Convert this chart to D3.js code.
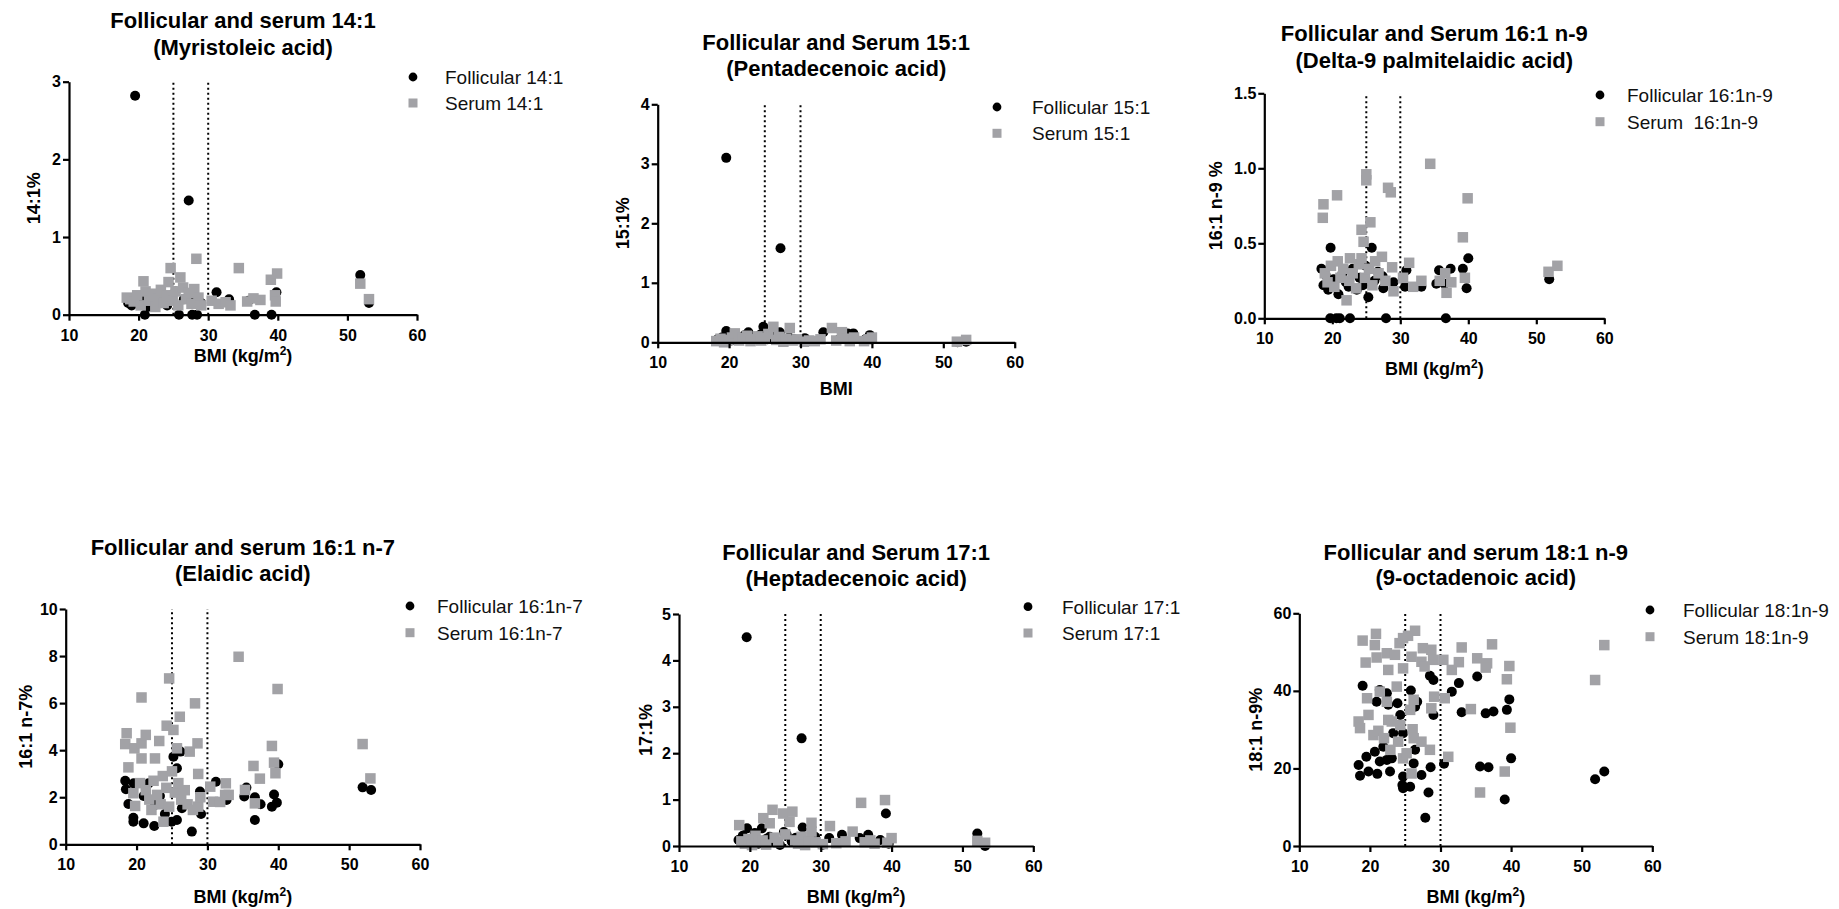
<!DOCTYPE html>
<html>
<head>
<meta charset="utf-8">
<script src="https://cdn.jsdelivr.net/npm/d3@7"></script>
<style>
  body { margin: 0; background: #fff; }
  svg { display: block; }
  text { font-family: Arial, "Liberation Sans", sans-serif; }
</style>
</head>
<body>
<svg id="chart" width="1839" height="909"></svg>
<script>
// ---- shared axis values ----
const bmiTicks = [10, 20, 30, 40, 50, 60];
const bmiCutoffs = [25, 30];           // overweight / obese thresholds

// ---- 14:1 (Myristoleic acid): [BMI, %] ----
const fol141 = [[18.5,0.15],[19.0,0.12],[19.5,2.82],[20.2,0.2],[20.9,0],[21.3,0.1],[22.0,0.22],[22.6,0.15],[23.4,0.18],[24.1,0.12],[24.8,0.25],[25.3,0.3],[25.8,0],[26.5,0.2],[27.2,1.47],[27.4,0.19],[27.7,0],[28.4,0],[29.0,0.15],[31.2,0.29],[33.0,0.2],[35.8,0.18],[36.7,0],[39.1,0],[39.8,0.29],[51.85,0.51],[53.1,0.15]];
const ser141 = [[18.3,0.22],[18.8,0.2],[19.3,0.17],[19.8,0.25],[20.3,0.12],[20.7,0.43],[21.0,0.3],[21.5,0.18],[21.9,0.27],[22.4,0.1],[22.8,0.2],[23.2,0.32],[23.6,0.15],[24.0,0.25],[24.3,0.42],[24.6,0.6],[24.9,0.18],[25.3,0.3],[25.7,0.12],[26.0,0.48],[26.4,0.35],[26.8,0.2],[27.2,0.28],[27.6,0.14],[28.0,0.33],[28.3,0.72],[28.6,0.22],[29.0,0.12],[30.5,0.18],[31.5,0.14],[32.5,0.16],[33.2,0.12],[34.4,0.6],[35.6,0.17],[36.5,0.21],[37.5,0.19],[39.0,0.45],[39.6,0.25],[39.7,0.17],[39.9,0.53],[51.85,0.4],[53.1,0.2]];

// ---- 15:1 (Pentadecenoic acid) ----
const fol151 = [[18.4,0.05],[19.0,0.08],[19.6,0.19],[19.6,3.10],[20.3,0.03],[21.0,0.1],[21.6,0.06],[22.2,0.12],[22.7,0.17],[23.3,0.04],[23.9,0.09],[24.4,0.13],[24.8,0.26],[25.4,0.05],[25.9,0.1],[26.5,0.07],[27.1,0.17],[27.2,1.58],[27.8,0.04],[28.4,0.08],[29.1,0.05],[30.6,0.07],[31.5,0.02],[33.2,0.17],[35.3,0.04],[36.6,0.15],[37.4,0.15],[39.2,0.06],[39.7,0.12],[52.0,0.0],[53.2,0.01]];
const ser151 = [[18.2,0.02],[18.8,0.06],[19.3,0.0],[19.9,0.04],[20.4,0.08],[20.8,0.15],[21.4,0.03],[21.9,0.07],[22.5,0.11],[23.0,0.02],[23.5,0.05],[24.0,0.1],[24.5,0.03],[25.0,0.07],[25.5,0.14],[26.2,0.26],[26.6,0.04],[27.0,0.09],[27.6,0.01],[28.0,0.06],[28.5,0.24],[28.9,0.03],[29.5,0.05],[30.5,0.01],[31.2,0.03],[32.0,0.02],[32.8,0.05],[34.4,0.24],[35.0,0.03],[35.8,0.17],[36.3,0.06],[36.9,0.02],[37.5,0.08],[38.9,0.02],[39.5,0.05],[40.0,0.08],[51.9,0.01],[53.2,0.04]];

// ---- 16:1 n-9 (Delta-9 palmitelaidic acid) ----
const fol161n9 = [[18.4,0.33],[18.7,0.22],[19.0,0.29],[19.4,0.19],[19.7,0.0],[19.75,0.47],[20.2,0.26],[20.6,0.0],[20.9,0.16],[21.1,0.0],[21.5,0.3],[22.0,0.24],[22.4,0.21],[22.6,0.0],[23.0,0.33],[23.6,0.19],[24.0,0.27],[24.5,0.22],[24.9,0.35],[25.3,0.14],[25.8,0.47],[26.2,0.25],[26.7,0.31],[27.4,0.28],[27.5,0.2],[27.9,0.0],[29.0,0.24],[30.7,0.21],[30.9,0.32],[33.1,0.21],[35.3,0.23],[35.7,0.32],[36.5,0.23],[36.7,0.0],[37.4,0.33],[39.2,0.33],[39.75,0.2],[40.0,0.40],[51.9,0.26]];
const ser161n9 = [[18.6,0.67],[18.7,0.76],[18.9,0.3],[19.3,0.24],[19.8,0.35],[20.3,0.21],[20.7,0.82],[20.8,0.38],[21.2,0.27],[21.6,0.33],[22.1,0.12],[22.5,0.25],[22.6,0.40],[23.0,0.3],[23.5,0.2],[23.9,0.36],[24.3,0.59],[24.3,0.40],[24.6,0.51],[24.8,0.27],[25.0,0.96],[25.0,0.92],[25.4,0.33],[25.6,0.64],[25.9,0.22],[26.3,0.38],[26.8,0.3],[27.3,0.41],[27.8,0.25],[28.2,0.87],[28.6,0.84],[28.8,0.34],[29.0,0.18],[30.4,0.27],[31.3,0.37],[31.9,0.21],[33.1,0.25],[34.4,1.03],[35.8,0.25],[36.6,0.30],[36.8,0.17],[37.5,0.24],[39.2,0.54],[39.5,0.27],[39.9,0.80],[51.8,0.31],[53.1,0.35]];

// ---- 16:1 n-7 (Elaidic acid) ----
const fol161n7 = [[18.4,2.7],[18.5,2.34],[18.85,1.71],[19.55,1.13],[19.55,0.96],[19.6,2.59],[21.0,0.89],[21.0,2.05],[21.7,2.59],[22.5,0.78],[22.6,1.67],[23.3,2.05],[24.0,1.29],[24.95,0.96],[25.2,3.72],[25.7,3.23],[25.7,1.03],[26.2,3.94],[26.4,1.53],[27.8,0.54],[28.95,2.24],[29.1,1.29],[31.2,2.66],[32.7,1.88],[35.2,2.03],[35.5,2.41],[36.7,2.0],[36.7,1.03],[37.5,1.7],[39.1,1.6],[39.4,2.12],[39.8,1.77],[40.0,3.4],[51.9,2.42],[53.1,2.31]];
const ser161n7 = [[18.4,4.26],[18.6,4.72],[18.85,3.27],[19.55,2.17],[19.7,4.08],[19.8,1.63],[20.5,2.6],[20.7,6.24],[20.7,4.29],[20.7,3.65],[21.3,4.65],[21.3,2.3],[21.8,1.9],[22.1,1.46],[22.4,2.7],[22.6,3.65],[22.9,2.1],[23.2,4.39],[23.4,1.7],[23.7,2.9],[23.8,0.96],[24.2,2.4],[24.25,5.04],[24.6,7.05],[24.6,1.6],[25.0,3.1],[25.2,4.86],[25.4,2.2],[25.7,4.08],[25.9,2.6],[26.1,5.42],[26.3,1.9],[26.8,2.3],[27.2,1.7],[27.5,3.94],[27.95,1.46],[28.25,5.99],[28.6,4.29],[28.7,2.99],[28.7,1.6],[29.0,2.0],[30.4,2.45],[30.8,1.81],[31.8,1.8],[32.5,2.1],[32.6,2.59],[33.0,2.1],[34.4,7.97],[35.3,2.31],[36.5,3.33],[36.7,1.74],[37.4,2.79],[39.1,4.18],[39.4,3.47],[39.6,3.02],[39.9,6.6],[51.9,4.26],[53.0,2.8]];

// ---- 17:1 (Heptadecenoic acid) ----
const fol171 = [[18.4,0.13],[19.0,0.22],[19.55,4.5],[19.6,0.38],[20.2,0.1],[20.7,0.28],[21.2,0.05],[21.7,0.38],[22.3,0.15],[22.8,0.2],[23.5,0.08],[24.25,0.02],[24.8,0.3],[25.2,0.24],[25.9,0.1],[26.5,0.18],[27.3,2.32],[27.45,0.40],[27.55,0.02],[28.3,0.12],[29.2,0.2],[30.2,0.02],[31.2,0.17],[33.0,0.24],[35.5,0.17],[36.7,0.24],[38.4,0.13],[39.2,0.70],[39.6,0.05],[52.1,0.27],[53.2,0.0]];
const ser171 = [[18.5,0.45],[18.8,0.1],[19.3,0.05],[19.8,0.15],[20.3,0.02],[20.8,0.22],[21.3,0.08],[21.8,0.12],[21.9,0.6],[22.3,0.03],[22.8,0.49],[23.2,0.78],[23.5,0.18],[24.0,0.08],[24.7,0.70],[25.0,0.25],[25.6,0.52],[26.0,0.74],[26.4,0.12],[26.8,0.05],[27.3,0.2],[27.8,0.02],[28.3,0.1],[28.7,0.5],[28.7,0.31],[29.3,0.08],[30.3,0.04],[31.3,0.43],[32.2,0.06],[33.5,0.1],[34.5,0.31],[35.7,0.93],[36.2,0.08],[37.0,0.12],[37.6,0.05],[39.07,0.99],[39.4,0.07],[40.0,0.17],[52.1,0.11],[53.2,0.07]];

// ---- 18:1 n-9 (9-octadenoic acid) ----
const fol181n9 = [[18.97,41.3],[18.4,20.9],[18.6,18.1],[19.5,23.0],[19.8,19.2],[20.7,24.3],[21.05,18.6],[21.4,21.8],[21.4,40.2],[20.95,37.2],[22.4,39.4],[22.6,36.4],[21.9,25.6],[22.85,19.2],[23.1,22.6],[22.4,22.2],[23.9,36.8],[23.3,29.1],[24.3,33.8],[24.7,29.1],[24.6,15.7],[24.7,14.9],[25.7,15.3],[24.7,17.9],[25.8,40.1],[26.4,35.9],[26.7,37.2],[26.2,21.3],[26.4,24.8],[27.3,18.3],[27.85,7.3],[28.3,13.8],[28.6,20.3],[28.5,43.9],[29.0,42.8],[29.0,33.8],[30.5,21.2],[31.6,39.8],[32.6,42.0],[33.0,34.5],[35.2,43.7],[35.6,20.5],[36.8,20.3],[36.4,34.2],[37.5,34.7],[39.1,12.0],[39.4,35.1],[39.75,37.8],[40.0,22.6],[51.9,17.2],[53.2,19.2]];
const ser181n9 = [[18.97,52.96],[19.4,47.3],[20.86,54.7],[20.7,51.8],[20.95,48.6],[22.4,49.7],[23.55,49.3],[22.6,45.4],[24.2,52.3],[24.7,53.6],[25.4,54.2],[26.4,55.5],[24.7,45.8],[25.9,48.8],[27.3,47.5],[27.75,46.3],[27.5,51.0],[28.7,50.6],[28.95,48.0],[30.4,48.0],[31.6,45.4],[33.0,51.2],[32.6,47.4],[35.2,48.4],[36.6,47.1],[36.4,46.0],[37.3,52.0],[39.75,46.4],[39.4,43.0],[51.9,42.8],[53.2,51.8],[18.4,32.1],[18.6,30.4],[19.8,33.8],[19.6,38.1],[20.5,28.6],[21.2,29.7],[21.4,39.8],[22.0,27.8],[22.4,37.2],[22.6,32.5],[23.8,41.1],[23.1,32.1],[24.3,31.2],[22.9,24.8],[24.0,26.9],[24.7,22.6],[25.2,23.9],[25.7,35.1],[26.2,37.7],[26.05,30.1],[26.2,27.8],[25.9,18.7],[27.3,26.9],[28.5,24.8],[28.7,35.5],[29.1,38.5],[30.6,38.1],[31.1,23.0],[34.3,35.3],[35.6,13.8],[39.1,19.2],[39.9,30.5]];

// ---- panel text ----
const titles = [
  ["Follicular and serum 14:1", "(Myristoleic acid)"],
  ["Follicular and Serum 15:1", "(Pentadecenoic acid)"],
  ["Follicular and Serum 16:1 n-9", "(Delta-9 palmitelaidic acid)"],
  ["Follicular and serum 16:1 n-7", "(Elaidic acid)"],
  ["Follicular and Serum 17:1", "(Heptadecenoic acid)"],
  ["Follicular and serum 18:1 n-9", "(9-octadenoic acid)"]
];
const yLabels = ["14:1%", "15:1%", "16:1 n-9 %", "16:1 n-7%", "17:1%", "18:1 n-9%"];
const legendLabels = [
  ["Follicular 14:1", "Serum 14:1"],
  ["Follicular 15:1", "Serum 15:1"],
  ["Follicular 16:1n-9", "Serum  16:1n-9"],
  ["Follicular 16:1n-7", "Serum 16:1n-7"],
  ["Follicular 17:1", "Serum 17:1"],
  ["Follicular 18:1n-9", "Serum 18:1n-9"]
];
const yTickSets = [[0,1,2,3],[0,1,2,3,4],[0,0.5,1,1.5],[0,2,4,6,8,10],[0,1,2,3,4,5],[0,20,40,60]];
const xAxisWithUnits = [true, false, true, true, true, true];
const follicularSets = [fol141, fol151, fol161n9, fol161n7, fol171, fol181n9];
const serumSets = [ser141, ser151, ser161n9, ser161n7, ser171, ser181n9];

// ---- layout of the six panels (pixels) ----
const layout = [
  { xl: 69,     xr: 417,    yb: 314.7, yt: 81.7,  tY: [20, 47],      yLabX: 33,   xLabY: 355.4, legX: 413,  legY: [77, 103],    legTx: 445 },
  { xl: 657.7,  xr: 1014.7, yb: 342.3, yt: 104.3, tY: [42, 68],      yLabX: 622,  xLabY: 388,   legX: 997,  legY: [107, 133.3], legTx: 1032 },
  { xl: 1264.3, xr: 1604.3, yb: 318.3, yt: 93.3,  tY: [33, 60],      yLabX: 1215, xLabY: 368,   legX: 1600, legY: [95, 121.7],  legTx: 1627 },
  { xl: 65.7,   xr: 420,    yb: 844.3, yt: 609,   tY: [546.7, 573.3], yLabX: 25,  xLabY: 896.7, legX: 410,  legY: [606, 632.7], legTx: 437 },
  { xl: 679,    xr: 1033.3, yb: 846,   yt: 614,   tY: [551.7, 578.3], yLabX: 645, xLabY: 896.7, legX: 1028, legY: [606.7, 633], legTx: 1062 },
  { xl: 1299.3, xr: 1652.3, yb: 846,   yt: 613.3, tY: [551.7, 577.3], yLabX: 1255, xLabY: 896.7, legX: 1650, legY: [610, 636.7], legTx: 1683 }
];

const GREY = "#a2a2a6";
const svg = d3.select("#chart");
svg.append("rect").attr("width", 1839).attr("height", 909).attr("fill", "#fff");

layout.forEach((L, i) => {
  const g = svg.append("g");
  const yTicks = yTickSets[i];
  const x = d3.scaleLinear().domain([10, 60]).range([L.xl, L.xr]);
  const y = d3.scaleLinear().domain([0, d3.max(yTicks)]).range([L.yb, L.yt]);
  const midX = (L.xl + L.xr) / 2;

  // title (two centred lines)
  titles[i].forEach((t, k) => {
    g.append("text").attr("x", midX).attr("y", L.tY[k] + 8)
      .attr("text-anchor", "middle").attr("font-size", 22).attr("font-weight", "bold")
      .text(t);
  });

  // BMI cut-off guides
  g.selectAll("line.cut").data(bmiCutoffs).enter().append("line")
    .attr("x1", d => x(d)).attr("x2", d => x(d))
    .attr("y1", y(0)).attr("y2", y(d3.max(yTicks)))
    .attr("stroke", "#000").attr("stroke-width", 2).attr("stroke-dasharray", "2,3");

  // follicular points (black circles)
  g.selectAll("circle.fol").data(follicularSets[i]).enter().append("circle")
    .attr("cx", d => x(d[0])).attr("cy", d => y(d[1])).attr("r", 5).attr("fill", "#000");

  // serum points (grey squares)
  const s = 10.5;
  g.selectAll("rect.ser").data(serumSets[i]).enter().append("rect")
    .attr("x", d => x(d[0]) - s / 2).attr("y", d => y(d[1]) - s / 2)
    .attr("width", s).attr("height", s).attr("fill", GREY);

  // axes
  const fmt = yTicks.some(v => v % 1 !== 0) ? d3.format(".1f") : d3.format("d");
  const xa = g.append("g").attr("transform", `translate(0,${L.yb})`)
    .call(d3.axisBottom(x).tickValues(bmiTicks).tickSize(6).tickSizeOuter(0).tickPadding(8.5).tickFormat(d3.format("d")));
  const ya = g.append("g").attr("transform", `translate(${L.xl},0)`)
    .call(d3.axisLeft(y).tickValues(yTicks).tickSize(6).tickSizeOuter(0).tickPadding(2).tickFormat(fmt));
  [xa, ya].forEach(a => {
    a.select(".domain").attr("stroke", "#000").attr("stroke-width", 2.2);
    a.selectAll(".tick line").attr("stroke", "#000").attr("stroke-width", 2.2);
    a.selectAll(".tick text").attr("fill", "#000").attr("font-size", 16).attr("font-weight", "bold")
      .attr("font-family", 'Arial, "Liberation Sans", sans-serif');
  });

  // axis titles
  const xl = g.append("text").attr("x", midX).attr("y", L.xLabY + 6.5)
    .attr("text-anchor", "middle").attr("font-size", 18).attr("font-weight", "bold");
  if (xAxisWithUnits[i]) {
    xl.append("tspan").text("BMI (kg/m");
    xl.append("tspan").attr("dy", -7).attr("font-size", 12).text("2");
    xl.append("tspan").attr("dy", 7).text(")");
  } else {
    xl.text("BMI");
  }
  const yMid = (L.yb + L.yt) / 2;
  g.append("text").attr("transform", `translate(${L.yLabX + 6.5},${yMid}) rotate(-90)`)
    .attr("text-anchor", "middle").attr("font-size", 18).attr("font-weight", "bold")
    .text(yLabels[i]);

  // legend
  g.append("circle").attr("cx", L.legX).attr("cy", L.legY[0]).attr("r", 4.4).attr("fill", "#000");
  g.append("rect").attr("x", L.legX - 4.5).attr("y", L.legY[1] - 4.5).attr("width", 9).attr("height", 9).attr("fill", GREY);
  legendLabels[i].forEach((t, k) => {
    g.append("text").attr("x", L.legTx).attr("y", L.legY[k] + 7)
      .attr("font-size", 19).attr("fill", "#111").attr("xml:space", "preserve").style("white-space", "pre")
      .text(t);
  });
});
</script>
</body>
</html>
